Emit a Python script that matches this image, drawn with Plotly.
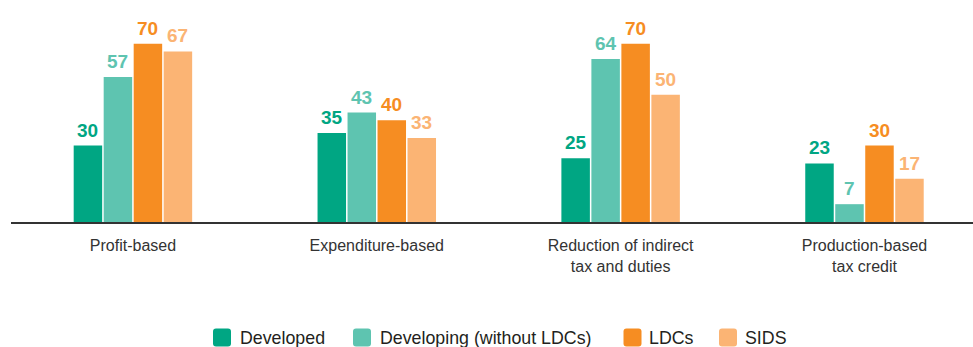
import plotly.graph_objects as go

# Categories of incentive and share of economies using each (%)
categories = [
    "Profit-based",
    "Expenditure-based",
    "Reduction of indirect<br>tax and duties",
    "Production-based<br>tax credit",
]
series_names = ["Developed", "Developing (without LDCs)", "LDCs", "SIDS"]
developed = [30, 35, 25, 23]
developing = [57, 43, 64, 7]
ldcs = [70, 40, 70, 30]
sids = [67, 33, 50, 17]

series_values = [developed, developing, ldcs, sids]
colors = ["#00a683", "#5ec4b0", "#f68d22", "#fbb474"]

# Figure geometry (pixels)
W, H = 973, 347
M_L, M_R, M_T, M_B = 11, 0, 0, 125
BARGAP = 0.508
FONT = "Liberation Sans, Arial, sans-serif"

plot_w = W - M_L - M_R
plot_h = H - M_T - M_B


def px_to_paper_x(px):
    return (px - M_L) / plot_w


def px_to_paper_y(py):
    return 1 - (py - M_T) / plot_h


fig = go.Figure()
for name, vals, col in zip(series_names, series_values, colors):
    fig.add_trace(
        go.Bar(
            name=name,
            x=categories,
            y=vals,
            marker=dict(color=col, line=dict(width=0)),
            showlegend=False,
            hoverinfo="skip",
        )
    )

# Value labels above each bar, placed at the grouped-bar centres
n_series = len(series_values)
slot = (1 - BARGAP) / n_series
annotations = []
for j, (vals, col) in enumerate(zip(series_values, colors)):
    for i, v in enumerate(vals):
        xc = i - (1 - BARGAP) / 2 + (j + 0.5) * slot
        annotations.append(
            dict(
                x=xc,
                y=v,
                xref="x",
                yref="y",
                text=f"<b>{v}</b>",
                showarrow=False,
                yanchor="bottom",
                xanchor="center",
                yshift=3,
                font=dict(family=FONT, size=19, color=col),
            )
        )

# Legend: rounded swatches with text beside them
legend_swatch_px = [222, 362, 632.5, 728]
legend_text_px = [238, 378, 647, 743]
legend_y_px = 337.5
shapes = []
r, h = 3, 9
swatch_path = (
    f"M {-h + r},{-h} L {h - r},{-h} Q {h},{-h} {h},{-h + r} "
    f"L {h},{h - r} Q {h},{h} {h - r},{h} L {-h + r},{h} "
    f"Q {-h},{h} {-h},{h - r} L {-h},{-h + r} Q {-h},{-h} {-h + r},{-h} Z"
)
for name, col, sx, tx in zip(series_names, colors, legend_swatch_px, legend_text_px):
    shapes.append(
        dict(
            type="path",
            xref="paper",
            yref="paper",
            xsizemode="pixel",
            ysizemode="pixel",
            xanchor=px_to_paper_x(sx),
            yanchor=px_to_paper_y(legend_y_px),
            path=swatch_path,
            fillcolor=col,
            line=dict(width=0),
        )
    )
    annotations.append(
        dict(
            x=px_to_paper_x(tx),
            y=px_to_paper_y(legend_y_px),
            xref="paper",
            yref="paper",
            text=name,
            showarrow=False,
            xanchor="left",
            yanchor="middle",
            font=dict(family=FONT, size=17.8, color="#231f20"),
        )
    )

fig.update_layout(
    width=W,
    height=H,
    margin=dict(l=M_L, r=M_R, t=M_T, b=M_B, pad=0),
    paper_bgcolor="white",
    plot_bgcolor="white",
    barmode="group",
    bargap=BARGAP,
    bargroupgap=0.05,
    showlegend=False,
    annotations=annotations,
    shapes=shapes,
    font=dict(family=FONT),
)
fig.update_xaxes(
    range=[-0.5, 3.445],
    showline=True,
    linecolor="#333333",
    linewidth=1.5,
    showgrid=False,
    zeroline=False,
    ticks="",
    ticklabelstandoff=8,
    tickfont=dict(family=FONT, size=16, color="#333333"),
)
fig.update_yaxes(
    range=[0, 87.2],
    visible=False,
    showgrid=False,
    zeroline=False,
)

fig.write_html("out.html")
